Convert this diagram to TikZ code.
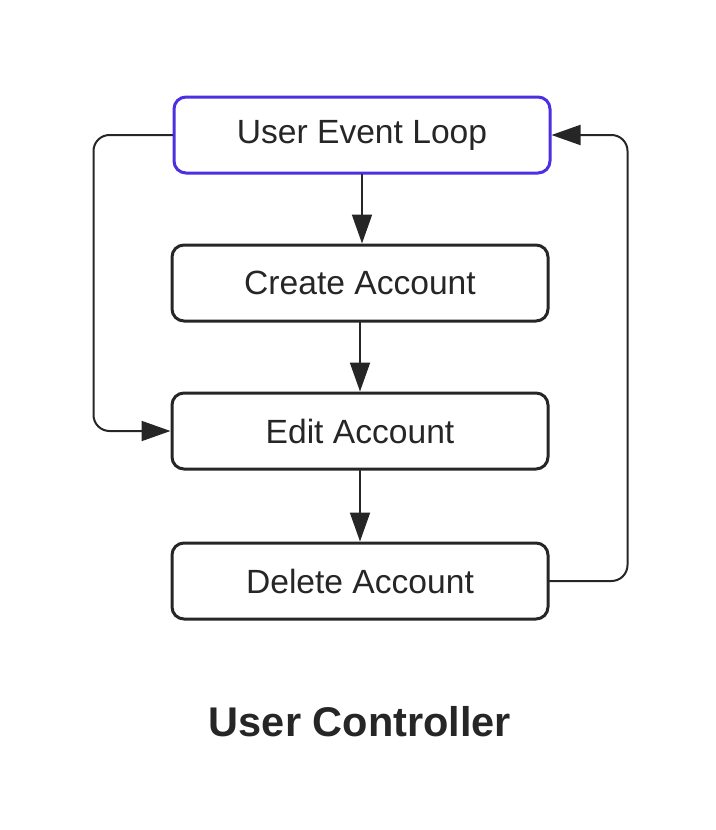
\documentclass[tikz,border=0pt]{standalone}
\usepackage{fontspec}
\setmainfont{Liberation Sans}
\usepackage{tikz}
\usetikzlibrary{arrows.meta,calc}
\definecolor{ink}{HTML}{262626}
\definecolor{loopblue}{HTML}{4A30E2}
\tikzset{
  StepBox/.style={
    draw=ink, line width=3pt, rounded corners=12pt,
    minimum width=376pt, minimum height=76pt,
    text=ink, font=\fontsize{33.6}{38}\selectfont
  },
  Flow/.style={
    draw=ink, line width=2pt,
    -{Triangle[length=29pt,width=20pt]}
  }
}

\begin{document}
\begin{tikzpicture}[x=1pt, y=-1pt, line cap=round, line join=round]
  % canvas
  \useasboundingbox (0,0) rectangle (715,830);

  % boxes
  \node[StepBox, draw=loopblue] (loop)   at (362,135) {User Event Loop};
  \node[StepBox]                (create) at (360,283) {Create Account};
  \node[StepBox]                (edit)   at (360,431) {Edit Account};
  \node[StepBox]                (delete) at (360,581) {Delete Account};

  % straight flow
  \draw[Flow] (loop.south)   -- (loop.south |- create.north);
  \draw[Flow] (create.south) -- (edit.north);
  \draw[Flow] (edit.south)   -- (delete.north);

  % side loops
  \draw[Flow, rounded corners=16pt] (loop.west) -- ++(-79,0) |- (edit.west);
  \draw[Flow, rounded corners=16pt] (delete.east) -- ++(78,0) |- (loop.east);

  % caption
  \node[text=ink, font=\fontsize{41.5}{46}\selectfont\bfseries] (title) at (360,722) {User Controller};
\end{tikzpicture}
\end{document}
